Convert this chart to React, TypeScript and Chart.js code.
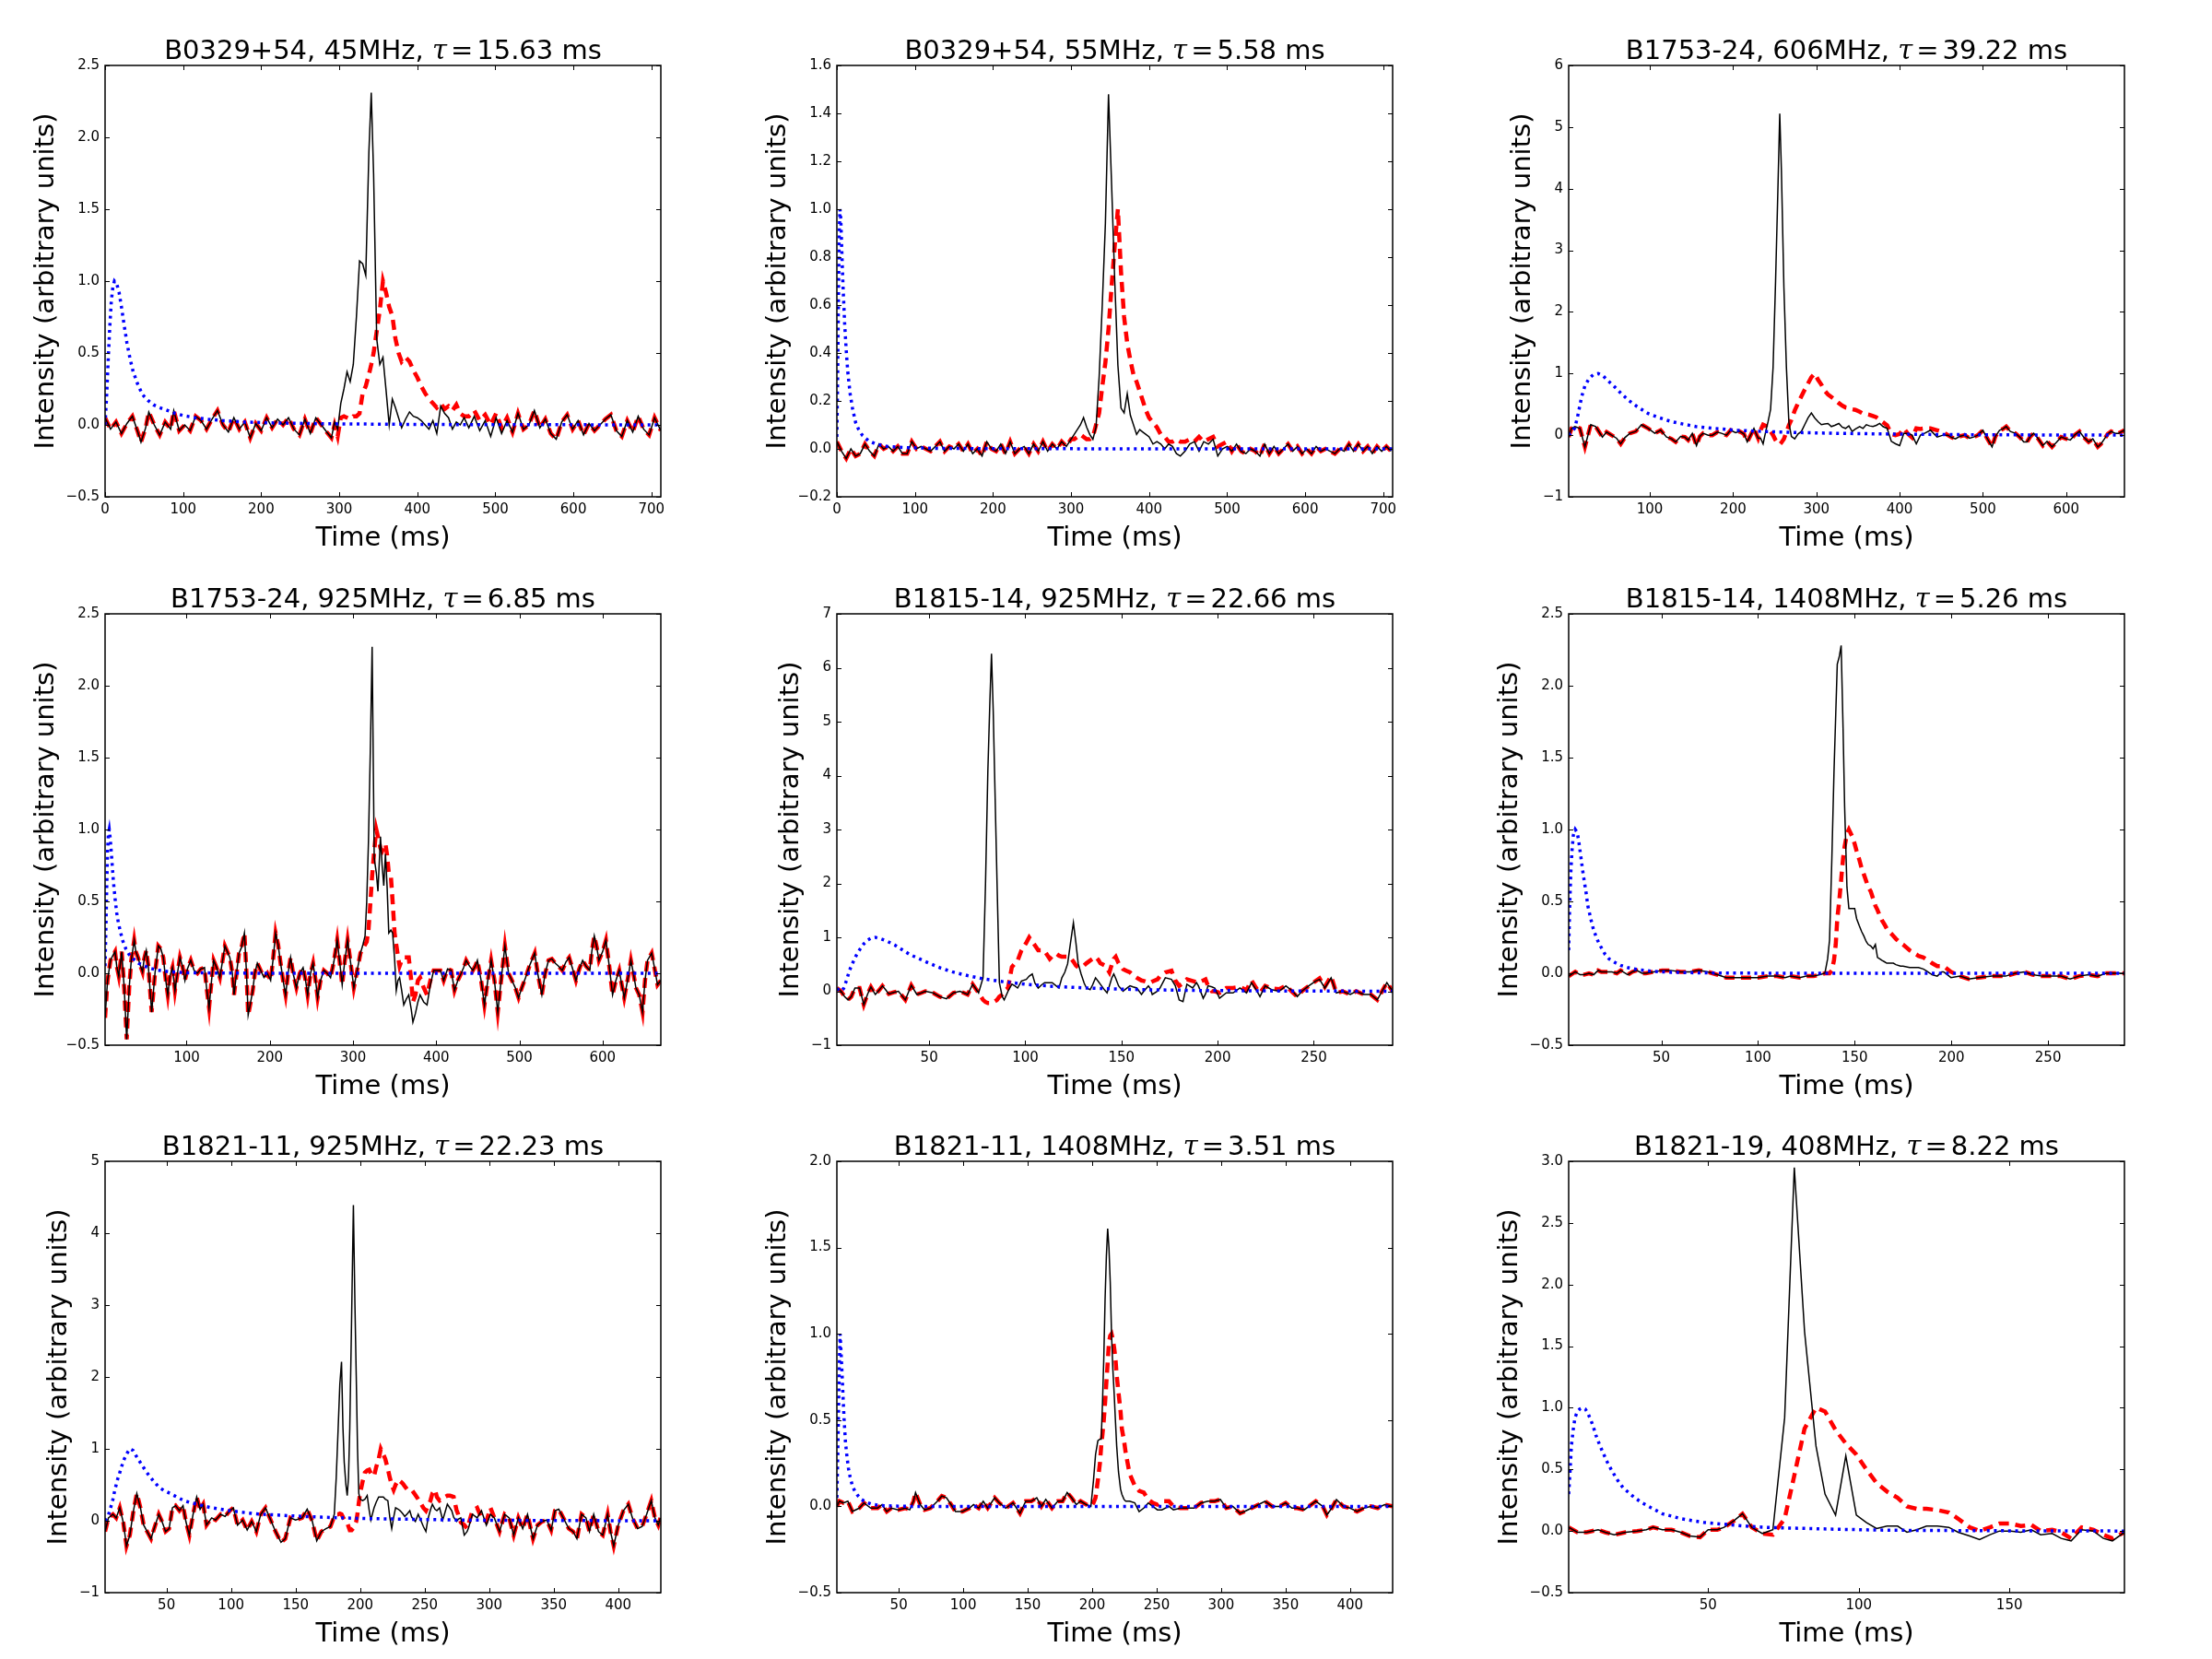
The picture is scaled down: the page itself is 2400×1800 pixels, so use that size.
import React, { useEffect, useRef } from "react";
import { Chart, registerables } from "chart.js";

Chart.register(...registerables);

// ---------- B0329+54, 45 MHz ----------
const p1TimeA = [0, 7, 14, 21, 28, 35, 42, 46, 52, 56, 63, 70, 77, 84, 88, 95, 102, 109, 116, 123, 130, 137, 144, 151, 158, 165, 172, 179, 186, 193, 200, 207, 214, 221, 228, 235, 242, 249, 256, 263, 270, 277, 284, 290];
const p1NoiseA = [0.05, -0.03, 0.02, -0.06, 0.01, 0.06, -0.05, -0.12, -0.02, 0.09, 0.0, -0.07, 0.02, -0.03, 0.1, -0.04, 0.0, -0.04, 0.06, 0.03, -0.03, 0.04, 0.1, 0.0, -0.05, 0.05, -0.03, 0.02, -0.09, 0.01, -0.04, 0.05, -0.02, 0.04, 0.0, 0.05, -0.03, -0.07, 0.04, -0.06, 0.05, 0.0, -0.05, -0.09];
const p1TimeB = [294, 298, 302, 306, 310, 314, 318, 322, 326, 330, 334, 338, 341, 344, 348, 352, 356, 360, 364, 368, 372, 376, 380, 385, 390, 395, 400, 405, 410, 415, 420, 425, 430, 435, 440, 445, 450, 455, 460, 466, 473, 480, 487, 494, 501, 508, 515];
const p1ProfileB = [0.02, -0.03, 0.15, 0.25, 0.37, 0.3, 0.42, 0.75, 1.14, 1.12, 1.04, 1.9, 2.31, 1.75, 0.6, 0.42, 0.47, 0.24, 0.0, 0.18, 0.12, 0.05, -0.02, 0.04, 0.09, 0.06, 0.05, 0.03, 0.0, -0.03, 0.03, -0.06, 0.13, 0.08, 0.05, -0.03, 0.02, 0.0, 0.05, -0.02, 0.06, -0.04, 0.03, -0.08, 0.05, -0.06, 0.03];
const p1ScatteredB = [0.0, -0.08, 0.05, 0.06, 0.05, 0.04, 0.06, 0.06, 0.08, 0.22, 0.27, 0.35, 0.42, 0.5, 0.65, 0.8, 1.0, 0.92, 0.82, 0.76, 0.6, 0.5, 0.44, 0.47, 0.44, 0.38, 0.33, 0.27, 0.22, 0.18, 0.15, 0.12, 0.15, 0.11, 0.13, 0.1, 0.14, 0.08, 0.06, 0.06, 0.1, 0.03, 0.07, 0.0, 0.08, -0.02, 0.05];
const p1TimeC = [522, 529, 536, 543, 550, 557, 564, 571, 578, 585, 592, 599, 606, 613, 620, 627, 634, 641, 648, 655, 662, 669, 676, 683, 690, 697, 704, 712];
const p1NoiseC = [-0.05, 0.08, -0.03, 0.0, 0.1, -0.02, 0.04, -0.06, -0.1, 0.02, 0.07, -0.03, 0.03, -0.07, 0.01, -0.04, 0.0, 0.04, 0.07, -0.04, -0.08, 0.03, -0.05, 0.06, -0.03, -0.07, 0.05, -0.04];
const p1KernelTime = [0, 2, 4, 6, 8, 10, 12, 15, 18, 21, 24, 28, 32, 36, 42, 48, 55, 62, 70, 80, 90, 100, 115, 130, 150, 180, 220, 280, 350, 450, 600, 712];
const p1Kernel = [0, 0.2, 0.45, 0.68, 0.86, 0.96, 1.0, 0.98, 0.92, 0.82, 0.71, 0.57, 0.46, 0.37, 0.28, 0.21, 0.17, 0.14, 0.12, 0.1, 0.08, 0.065, 0.05, 0.04, 0.03, 0.02, 0.013, 0.008, 0.005, 0.002, 0.001, 0];
const p1XTicks = [0, 100, 200, 300, 400, 500, 600, 700];
const p1YTicks = [-0.5, 0, 0.5, 1, 1.5, 2, 2.5];

// ---------- B0329+54, 55 MHz ----------
const p2TimeA = [0, 6, 12, 18, 24, 30, 36, 42, 48, 54, 60, 66, 72, 78, 84, 90, 96, 102, 108, 114, 120, 126, 132, 138, 144, 150, 156, 162, 168, 174, 180, 186, 192, 198, 204, 210, 216, 222, 228, 234, 240, 246, 252, 258, 264, 270, 276, 282, 288, 294, 300];
const p2NoiseA = [0.03, -0.01, -0.04, 0.0, -0.03, -0.02, 0.02, -0.01, -0.03, 0.02, 0.0, 0.01, -0.01, 0.01, -0.02, -0.02, 0.03, 0.0, 0.01, 0.0, -0.01, 0.01, 0.03, -0.01, 0.01, 0.0, 0.02, -0.01, 0.02, -0.02, 0.0, -0.03, 0.03, 0.0, -0.01, 0.02, -0.02, 0.03, -0.02, 0.0, 0.01, -0.02, 0.02, -0.01, 0.03, -0.01, 0.02, 0.0, 0.03, 0.01, 0.04];
const p2TimeB = [304, 308, 312, 316, 320, 324, 328, 332, 336, 340, 344, 348, 352, 356, 360, 364, 368, 372, 376, 380, 384, 388, 392, 396, 400, 405, 410, 415, 420, 425, 430, 435, 440, 446, 452, 458, 464, 470, 476, 482, 488, 494, 500];
const p2ProfileB = [0.06, 0.08, 0.1, 0.13, 0.09, 0.06, 0.04, 0.09, 0.3, 0.6, 0.94, 1.48, 1.1, 0.7, 0.35, 0.17, 0.15, 0.23, 0.14, 0.1, 0.06, 0.08, 0.07, 0.06, 0.05, 0.02, 0.03, 0.02, 0.0, 0.02, 0.01, -0.02, -0.03, -0.01, 0.02, 0.03, -0.01, 0.03, 0.02, 0.04, -0.03, 0.0, 0.01];
const p2ScatteredB = [0.04, 0.05, 0.06, 0.05, 0.04, 0.04, 0.05, 0.1, 0.15, 0.26, 0.36, 0.5, 0.68, 0.85, 1.0, 0.74, 0.55, 0.44, 0.37, 0.31, 0.28, 0.24, 0.2, 0.16, 0.13, 0.11, 0.09, 0.06, 0.05, 0.03, 0.03, 0.04, 0.03, 0.03, 0.04, 0.03, 0.05, 0.03, 0.04, 0.05, 0.01, 0.02, 0.03];
const p2TimeC = [506, 512, 518, 524, 530, 536, 542, 548, 554, 560, 566, 572, 578, 584, 590, 596, 602, 608, 614, 620, 626, 632, 638, 644, 650, 656, 662, 668, 674, 680, 686, 692, 698, 704, 710];
const p2NoiseC = [-0.01, 0.02, -0.01, -0.02, 0.0, -0.01, -0.03, 0.02, -0.02, 0.01, -0.02, 0.0, 0.02, -0.01, 0.01, -0.02, 0.0, -0.02, 0.01, -0.01, 0.0, -0.01, -0.02, 0.0, -0.01, 0.02, -0.01, 0.02, -0.01, 0.01, -0.02, 0.01, -0.01, 0.01, -0.01];
const p2KernelTime = [0, 1, 2, 3, 4, 5, 6, 7, 8, 10, 12, 14, 17, 20, 24, 28, 33, 40, 50, 65, 90, 130, 200, 400, 712];
const p2Kernel = [0.05, 0.3, 0.62, 0.9, 1.0, 0.96, 0.86, 0.76, 0.67, 0.52, 0.41, 0.32, 0.23, 0.17, 0.11, 0.08, 0.055, 0.035, 0.02, 0.01, 0.005, 0.002, 0.001, 0, 0];
const p2XTicks = [0, 100, 200, 300, 400, 500, 600, 700];
const p2YTicks = [-0.2, 0, 0.2, 0.4, 0.6, 0.8, 1.0, 1.2, 1.4, 1.6];

// ---------- B1753-24, 606 MHz ----------
const p3TimeA = [2.5, 6, 10, 16, 22, 29, 35, 43, 48, 54, 60, 65, 70, 76, 83, 90, 98, 106, 113, 120, 126, 131, 137, 142, 146, 151, 156, 160, 164, 170, 175, 181, 186, 192, 197, 203, 208, 213, 217, 221, 225, 230];
const p3NoiseA = [-0.03, 0.11, 0.14, 0.11, -0.19, 0.17, 0.14, -0.03, 0.05, 0.0, -0.05, -0.14, -0.04, 0.03, 0.06, 0.17, 0.11, 0.03, 0.08, -0.03, -0.06, -0.11, -0.02, -0.03, -0.08, 0.03, -0.17, -0.02, 0.03, 0.0, 0.0, 0.05, 0.03, 0.0, 0.08, 0.04, 0.06, 0.02, -0.11, 0.0, 0.11, -0.05];
const p3TimeB = [233, 236, 239, 242, 245, 248, 251, 254, 256, 258, 261, 264, 267, 270, 274, 278, 282, 286, 290, 294, 298, 302, 306, 310, 314, 318, 322, 327, 331, 335, 339, 343, 347, 352, 356, 360, 364, 368, 372, 376, 380, 385, 390, 395, 400, 405, 410, 415, 420, 425, 430, 437, 445, 452];
const p3ProfileB = [-0.05, -0.14, 0.05, 0.22, 0.42, 1.1, 2.5, 4.1, 5.22, 4.3, 2.4, 1.1, 0.2, -0.02, -0.06, 0.02, 0.06, 0.17, 0.28, 0.36, 0.28, 0.22, 0.17, 0.18, 0.19, 0.14, 0.16, 0.19, 0.13, 0.11, 0.15, 0.06, 0.1, 0.14, 0.11, 0.17, 0.15, 0.14, 0.16, 0.19, 0.14, 0.11, -0.1, -0.14, -0.17, 0.03, 0.03, 0.0, -0.14, 0.0, 0.03, 0.08, -0.03, 0.0];
const p3ScatteredB = [0.08, 0.17, 0.15, 0.09, 0.06, 0.0, -0.08, -0.14, -0.15, -0.12, -0.06, 0.05, 0.16, 0.25, 0.4, 0.52, 0.63, 0.74, 0.84, 0.94, 1.0, 0.9, 0.82, 0.72, 0.66, 0.62, 0.58, 0.52, 0.48, 0.45, 0.44, 0.42, 0.41, 0.38, 0.35, 0.34, 0.33, 0.31, 0.29, 0.25, 0.21, 0.16, 0.02, 0.0, 0.02, 0.11, 0.02, -0.04, 0.11, 0.1, 0.11, 0.11, 0.08, 0.05];
const p3TimeC = [458, 463, 467, 472, 478, 484, 489, 494, 500, 505, 511, 515, 520, 524, 528, 533, 539, 545, 549, 553, 557, 561, 566, 572, 577, 583, 588, 594, 600, 605, 610, 616, 621, 627, 632, 638, 642, 646, 650, 654, 659, 663, 667, 670];
const p3NoiseC = [0.0, -0.04, -0.06, -0.02, 0.0, -0.05, -0.03, 0.0, 0.08, -0.05, -0.19, -0.02, 0.08, 0.1, 0.14, 0.06, 0.03, -0.04, -0.11, -0.11, -0.02, 0.03, -0.05, -0.17, -0.1, -0.19, -0.12, -0.03, -0.06, -0.08, 0.0, 0.06, -0.03, -0.11, -0.06, -0.19, -0.14, -0.06, 0.02, 0.06, 0.03, 0.03, 0.06, 0.08];
const p3KernelTime = [2.5, 6, 10, 14, 18, 22, 27, 32, 38, 44, 50, 58, 66, 75, 85, 98, 112, 126, 140, 155, 170, 186, 205, 236, 270, 320, 380, 430, 500, 600, 670];
const p3Kernel = [0.0, 0.05, 0.12, 0.35, 0.62, 0.8, 0.92, 0.98, 1.0, 0.96, 0.88, 0.78, 0.67, 0.56, 0.46, 0.35, 0.28, 0.22, 0.18, 0.14, 0.12, 0.1, 0.08, 0.06, 0.045, 0.03, 0.02, 0.012, 0.006, 0.002, 0.0];
const p3XTicks = [100, 200, 300, 400, 500, 600];
const p3YTicks = [-1, 0, 1, 2, 3, 4, 5, 6];

// ---------- B1753-24, 925 MHz ----------
const p4TimeA = [2, 5, 8.5, 11, 14, 16, 18.5, 20, 22, 25, 28, 31, 33.5, 37, 39, 41.6, 44, 47, 49, 51.5, 54, 58, 62, 66, 69, 72, 75, 77.4, 80, 83, 86, 89, 92, 95, 98, 101, 105, 109, 113, 117, 121.5, 124, 127, 130, 132.5, 136, 140, 143, 146, 149, 152, 155, 157, 160, 163, 166, 169.5, 172, 174, 177, 179.5, 182, 185, 189, 193, 197, 201, 204, 207, 210, 212.5, 216, 219, 222, 225, 228, 232, 236, 240, 243, 245.5, 249, 252, 255, 257.5, 261, 265, 269, 273, 277, 281, 284, 287, 290, 293.5, 297, 301, 305];
const p4NoiseA = [-0.31, -0.05, 0.09, 0.12, 0.15, 0.05, -0.02, 0.05, 0.15, -0.1, -0.46, -0.1, 0.09, 0.23, 0.15, 0.11, 0.06, 0.01, 0.1, 0.16, 0.05, -0.27, 0.0, 0.19, 0.17, 0.11, -0.05, -0.15, -0.02, 0.04, -0.12, 0.0, 0.11, 0.05, -0.05, 0.03, 0.09, 0.02, 0.0, 0.03, 0.04, -0.1, -0.24, -0.05, 0.09, 0.04, -0.03, 0.08, 0.19, 0.15, 0.11, 0.0, -0.15, 0.0, 0.14, 0.18, 0.28, 0.0, -0.29, -0.2, -0.12, 0.0, 0.07, 0.02, -0.03, 0.0, -0.05, 0.1, 0.28, 0.2, 0.09, -0.05, -0.15, 0.0, 0.11, 0.0, -0.1, 0.0, 0.04, -0.05, -0.15, 0.0, 0.07, -0.05, -0.17, -0.05, 0.02, 0.0, -0.03, 0.08, 0.23, 0.08, -0.08, 0.08, 0.23, 0.08, -0.1, 0.02];
const p4TimeB = [309, 312, 314.5, 316.5, 318.6, 321, 323, 325.5, 328, 330, 333, 335, 337, 339, 341, 343, 345.5, 347.6, 350, 352, 354, 356, 358.5, 361, 364, 367, 370, 372, 375, 378, 380.6, 385, 389, 393, 397, 401];
const p4ProfileB = [0.14, 0.2, 0.26, 0.5, 0.92, 1.6, 2.27, 0.8, 0.7, 0.57, 0.95, 0.75, 0.61, 0.83, 0.6, 0.28, 0.3, 0.28, 0.1, -0.12, -0.05, -0.03, -0.12, -0.22, -0.18, -0.15, -0.25, -0.34, -0.28, -0.2, -0.15, -0.2, -0.22, -0.08, 0.02, 0.02];
const p4ScatteredB = [0.14, 0.17, 0.2, 0.22, 0.3, 0.5, 0.68, 0.85, 1.0, 0.95, 0.87, 0.85, 0.88, 0.9, 0.82, 0.7, 0.68, 0.5, 0.28, 0.2, 0.12, 0.05, 0.09, 0.11, 0.11, 0.11, -0.05, -0.2, -0.15, -0.05, -0.03, -0.1, -0.15, -0.05, 0.02, 0.02];
const p4TimeC = [405, 409, 413.7, 418, 422, 426, 430, 433, 436, 440, 444, 447, 449.5, 454, 458, 462, 466, 470, 474, 478, 482.6, 487, 491, 495, 499, 503, 507.4, 512, 518.4, 522, 527, 531, 535, 539, 543, 547, 551.5, 556, 559.8, 564, 568, 572, 576, 580, 584.6, 587, 590, 593, 595.6, 600, 604, 608, 612, 616, 620, 623, 626, 630, 634, 637, 640, 644, 648, 651, 654, 657, 659, 662, 666, 670];
const p4NoiseC = [0.02, -0.05, 0.03, 0.02, -0.12, -0.05, 0.0, 0.04, 0.09, 0.05, 0.02, 0.05, 0.09, -0.05, -0.22, -0.05, 0.09, -0.05, -0.27, -0.05, 0.19, 0.0, -0.05, -0.1, -0.17, -0.1, -0.03, 0.05, 0.14, 0.0, -0.15, 0.0, 0.09, 0.1, 0.07, 0.05, 0.02, 0.08, 0.11, 0.03, -0.05, 0.03, 0.09, 0.05, 0.02, 0.15, 0.26, 0.18, 0.09, 0.15, 0.23, 0.05, -0.15, -0.05, 0.02, -0.08, -0.17, -0.05, 0.09, 0.0, -0.1, -0.15, -0.27, -0.05, 0.09, 0.12, 0.14, 0.05, -0.08, -0.05];
const p4KernelTime = [2, 3, 4, 5, 6, 7, 8, 9, 10, 11, 12, 14, 16, 18, 20, 23, 27, 31, 36, 42, 48, 56, 65, 80, 100, 150, 250, 670];
const p4Kernel = [0.05, 0.3, 0.6, 0.85, 0.97, 1.0, 0.95, 0.88, 0.8, 0.72, 0.64, 0.52, 0.42, 0.35, 0.3, 0.23, 0.17, 0.13, 0.1, 0.07, 0.055, 0.035, 0.022, 0.01, 0.004, 0.001, 0, 0];
const p4XTicks = [100, 200, 300, 400, 500, 600];
const p4YTicks = [-0.5, 0, 0.5, 1, 1.5, 2, 2.5];

// ---------- B1815-14, 925 MHz ----------
const p5TimeA = [2, 4.2, 6, 7.8, 9.5, 11.4, 13.8, 16, 18, 19.7, 22, 24, 25.7, 27.5, 29, 31.5, 34, 37.6, 40.7, 43.6, 46, 48, 52, 55.5, 59, 62.6, 66, 70, 72.6];
const p5NoiseA = [0.06, 0.0, -0.1, -0.16, -0.1, 0.06, 0.06, -0.25, -0.05, 0.08, -0.06, 0.02, 0.1, 0.02, -0.05, -0.02, 0.0, -0.16, 0.11, -0.06, -0.03, 0.0, -0.03, -0.1, -0.14, -0.03, 0.0, -0.06, 0.13];
const p5TimeB = [75.7, 78, 79.3, 80.5, 81.5, 82.4, 83.3, 84, 85.3, 86.5, 88, 89, 91, 93, 94.5, 96, 98, 100.5, 102, 103.6, 105, 106.7, 108.5, 110, 112.7, 114, 116, 117.5, 119, 120.5, 122, 123.5, 125, 126.3, 127.5, 129, 130.6, 131.8, 133.7, 135, 136.5, 138, 139, 141.3, 142.5, 143.7, 145, 146, 147, 148.5, 150.8, 152.5, 154.4, 156, 158, 160.4, 161.6, 164, 165, 166, 168.7, 170, 172.8, 176, 178, 180, 182, 184, 187, 189, 190, 192.5, 193.7, 195, 197, 198.5, 201, 204.5, 208, 211.6, 215, 217.6, 220, 222, 224.7, 228, 232, 235.5, 239, 241.4, 243.8, 247.4, 251, 253, 255.7, 259, 261.7];
const p5ProfileB = [-0.03, 0.25, 2.0, 4.07, 5.3, 6.26, 5.2, 4.07, 2.0, 0.16, -0.1, -0.16, 0.0, 0.13, 0.1, 0.06, 0.19, 0.22, 0.28, 0.32, 0.15, 0.06, 0.12, 0.16, 0.16, 0.16, 0.1, 0.06, 0.25, 0.35, 0.51, 0.9, 1.27, 0.9, 0.51, 0.32, 0.15, 0.06, 0.03, 0.12, 0.25, 0.18, 0.13, 0.02, -0.03, 0.1, 0.25, 0.32, 0.24, 0.1, 0.0, 0.05, 0.1, 0.08, 0.06, -0.06, 0.0, 0.1, 0.05, -0.06, 0.0, 0.06, 0.25, 0.22, 0.1, -0.16, -0.19, 0.13, 0.06, 0.16, 0.1, -0.13, -0.05, 0.1, 0.08, 0.06, -0.13, -0.03, -0.03, 0.06, -0.03, 0.16, 0.03, -0.1, 0.1, 0.03, 0.0, 0.1, 0.0, -0.1, 0.0, 0.1, 0.19, 0.22, 0.06, 0.25, -0.03];
const p5ScatteredB = [-0.03, -0.16, -0.2, -0.22, -0.22, -0.22, -0.2, -0.19, -0.16, -0.1, -0.06, 0.0, 0.06, 0.45, 0.51, 0.57, 0.76, 0.9, 1.0, 0.92, 0.85, 0.76, 0.76, 0.75, 0.6, 0.65, 0.7, 0.66, 0.64, 0.64, 0.64, 0.62, 0.55, 0.48, 0.44, 0.46, 0.48, 0.52, 0.57, 0.6, 0.64, 0.58, 0.52, 0.48, 0.42, 0.35, 0.5, 0.6, 0.64, 0.52, 0.41, 0.38, 0.35, 0.3, 0.25, 0.2, 0.19, 0.16, 0.16, 0.18, 0.22, 0.28, 0.35, 0.38, 0.2, 0.1, 0.15, 0.22, 0.19, 0.17, 0.16, 0.2, 0.22, 0.1, 0.0, 0.0, -0.03, 0.06, 0.06, 0.08, 0.02, 0.2, 0.06, -0.03, 0.1, 0.05, 0.04, 0.1, -0.02, -0.1, 0.0, 0.1, 0.19, 0.24, 0.08, 0.28, -0.03];
const p5TimeC = [265, 269, 272, 276, 279.6, 283, 285.5, 288, 291];
const p5NoiseC = [0.0, -0.06, 0.0, -0.06, -0.06, -0.16, 0.0, 0.16, 0.0];
const p5KernelTime = [2, 4, 5.5, 7, 8.5, 10, 12, 14, 16, 18, 20, 22, 25, 28, 32, 36, 40, 45, 50, 56, 62, 70, 78, 88, 100, 115, 135, 160, 190, 230, 291];
const p5Kernel = [0.05, 0.0, 0.05, 0.2, 0.38, 0.51, 0.66, 0.78, 0.88, 0.95, 0.99, 1.0, 0.97, 0.93, 0.86, 0.77, 0.68, 0.6, 0.52, 0.43, 0.36, 0.29, 0.23, 0.18, 0.13, 0.09, 0.055, 0.03, 0.015, 0.006, 0.0];
const p5XTicks = [50, 100, 150, 200, 250];
const p5YTicks = [-1, 0, 1, 2, 3, 4, 5, 6, 7];

// ---------- B1815-14, 1408 MHz ----------
const p6TimeA = [2.1, 5.5, 8, 10, 12.6, 15, 17.3, 19, 20.9, 24.4, 27, 29, 32.7, 35, 37.4, 40, 42, 46, 50.5, 55, 60, 64.7, 69.4, 74, 79, 83.6, 90.8, 95, 100, 105, 109.7, 114, 116.8, 121.6, 125, 128.7, 132];
const p6NoiseA = [-0.02, 0.01, -0.01, -0.01, 0.0, -0.01, 0.02, 0.01, 0.01, 0.01, 0.0, 0.02, -0.01, 0.01, 0.02, 0.0, 0.0, 0.01, 0.02, 0.02, 0.01, 0.01, 0.02, 0.01, -0.01, -0.03, -0.03, -0.03, -0.03, -0.02, -0.02, -0.03, -0.02, -0.03, -0.02, -0.02, -0.01];
const p6TimeB = [134.6, 136, 137, 138.2, 139.3, 140.2, 141, 142, 143, 144, 144.8, 146, 147, 148.8, 150, 151, 152.4, 153.6, 154.7, 156, 157, 158.3, 159.5, 160.7, 161.8, 163, 164, 165.4, 166.6, 167.8, 170, 171.3, 173.7, 175, 178.4, 182, 183, 185.5, 186.7, 189, 190, 192.7, 195, 196, 199.8, 204.5];
const p6ProfileB = [0.0, 0.1, 0.23, 0.8, 1.4, 1.8, 2.15, 2.2, 2.28, 1.7, 1.16, 0.6, 0.45, 0.45, 0.45, 0.38, 0.33, 0.29, 0.26, 0.22, 0.2, 0.19, 0.17, 0.2, 0.11, 0.1, 0.09, 0.08, 0.07, 0.07, 0.07, 0.06, 0.05, 0.05, 0.04, 0.04, 0.04, 0.03, 0.02, 0.0, -0.01, -0.02, 0.01, 0.01, -0.03, -0.02];
const p6ScatteredB = [0.0, 0.0, 0.0, 0.02, 0.09, 0.2, 0.38, 0.5, 0.65, 0.8, 0.88, 0.97, 1.0, 0.95, 0.9, 0.85, 0.79, 0.73, 0.69, 0.64, 0.6, 0.57, 0.52, 0.47, 0.44, 0.4, 0.37, 0.34, 0.31, 0.29, 0.26, 0.24, 0.21, 0.2, 0.16, 0.13, 0.12, 0.11, 0.1, 0.08, 0.07, 0.05, 0.05, 0.05, 0.01, -0.02];
const p6TimeC = [209, 214, 221, 228, 233, 237.7, 242, 247, 252, 256.6, 261.4, 266, 271, 275.6, 280, 285, 289.5];
const p6NoiseC = [-0.04, -0.03, -0.02, -0.02, 0.0, 0.01, -0.01, -0.02, -0.02, -0.02, -0.04, -0.02, -0.01, -0.02, 0.0, 0.0, 0.0];
const p6KernelTime = [2.1, 2.6, 3.2, 3.8, 4.5, 5.5, 6.5, 7.3, 8.5, 9.7, 11, 12, 13.5, 15, 17, 18.5, 21, 23, 26, 29, 33, 38.6, 45, 55, 70, 100, 150, 289.5];
const p6Kernel = [0.16, 0.45, 0.7, 0.85, 0.96, 1.0, 0.98, 0.92, 0.8, 0.68, 0.57, 0.47, 0.38, 0.3, 0.23, 0.19, 0.13, 0.1, 0.075, 0.055, 0.038, 0.024, 0.014, 0.007, 0.003, 0.0005, 0, 0];
const p6XTicks = [50, 100, 150, 200, 250];
const p6YTicks = [-0.5, 0, 0.5, 1, 1.5, 2, 2.5];

// ---------- B1821-11, 925 MHz ----------
const p7TimeA = [2.4, 5, 8.5, 11, 13.8, 16.6, 19, 21.6, 24.4, 27, 29.8, 32.3, 35, 38, 40.4, 44, 46.5, 49.3, 52, 54.6, 57, 60, 62.8, 65, 67.7, 70.6, 73.4, 76, 78.4, 81, 85, 88, 92, 95.4, 99, 101.8, 105, 109, 112.5, 116, 119.6, 123, 126.7, 130, 134.5, 138.7, 142, 146, 150, 155, 159, 163, 166.4, 170, 173.5, 177];
const p7NoiseA = [-0.15, 0.04, 0.09, 0.04, 0.18, -0.03, -0.35, -0.2, 0.14, 0.38, 0.18, -0.06, -0.15, -0.25, -0.11, 0.09, -0.01, -0.15, -0.11, 0.18, 0.21, 0.14, 0.21, -0.01, -0.2, 0.09, 0.33, 0.16, 0.23, -0.06, 0.04, 0.01, 0.09, 0.06, 0.14, 0.18, -0.06, 0.01, -0.13, -0.01, -0.15, 0.09, 0.18, 0.04, -0.15, -0.3, -0.25, 0.04, 0.01, 0.04, 0.16, -0.01, -0.28, -0.15, -0.11, -0.08];
const p7TimeB = [180, 181.5, 183, 184.3, 185.6, 186.7, 187.7, 189, 190, 191, 192, 193.4, 194.8, 196, 197, 198, 199, 200, 202, 203.7, 205.5, 207, 208.3, 210.8, 212.5, 214.4, 216, 218, 219.5, 221.5, 223, 224.5, 226, 227.5, 229.6, 231, 233, 234.6, 236.7, 238.5, 240, 242.8, 245, 247.4, 249, 251, 252.5, 254.5, 256, 258, 259.5, 261.6, 264, 265.5, 267.6, 269.5, 271, 272.5, 274.7, 276, 278, 280.7, 282.9, 284, 287, 290.7, 294, 297.8, 301, 304];
const p7ProfileB = [0.09, 0.6, 1.29, 1.9, 2.21, 1.3, 0.81, 0.5, 0.35, 0.6, 1.29, 2.8, 4.39, 3.0, 2.02, 1.0, 0.38, 0.3, 0.28, 0.3, 0.35, 0.15, 0.01, 0.18, 0.26, 0.33, 0.33, 0.33, 0.3, 0.28, 0.05, -0.11, 0.05, 0.18, 0.16, 0.14, 0.1, 0.06, 0.1, 0.14, 0.05, -0.01, 0.09, -0.01, -0.08, -0.15, 0.02, 0.15, 0.23, 0.16, 0.14, 0.18, 0.01, 0.1, 0.23, 0.18, 0.14, 0.05, -0.01, 0.02, 0.04, -0.2, -0.15, -0.1, 0.09, 0.04, 0.14, -0.06, 0.09, 0.04];
const p7ScatteredB = [0.06, 0.09, 0.09, 0.1, 0.09, 0.05, 0.02, -0.01, -0.03, -0.08, -0.13, -0.13, -0.1, -0.05, -0.01, 0.1, 0.25, 0.38, 0.55, 0.67, 0.7, 0.71, 0.66, 0.62, 0.75, 0.86, 1.0, 0.92, 0.86, 0.72, 0.6, 0.5, 0.43, 0.5, 0.57, 0.55, 0.52, 0.48, 0.43, 0.43, 0.43, 0.36, 0.3, 0.23, 0.18, 0.14, 0.2, 0.28, 0.38, 0.43, 0.33, 0.28, 0.3, 0.33, 0.35, 0.35, 0.34, 0.33, 0.15, 0.09, -0.02, -0.06, -0.11, -0.05, 0.14, 0.18, 0.04, -0.01, 0.18, 0.04];
const p7TimeC = [308, 312, 315.5, 319, 322.6, 326, 329.7, 334, 337.5, 341, 344.6, 348, 351, 353.9, 357.4, 361.7, 365, 368, 371.6, 375, 377.7, 381, 384.7, 388, 391.8, 394, 396.5, 400, 404, 407.8, 411, 415, 418.5, 422, 425.6, 428.4, 431, 432.7];
const p7NoiseC = [-0.15, 0.09, 0.04, -0.2, 0.04, -0.11, 0.09, -0.25, -0.06, -0.01, 0.01, -0.13, 0.14, 0.16, 0.04, -0.11, -0.15, -0.25, 0.09, 0.04, -0.15, 0.09, -0.15, -0.2, 0.09, -0.15, -0.35, -0.06, 0.14, 0.23, 0.04, -0.11, -0.08, 0.09, 0.28, 0.04, -0.06, 0.04];
const p7KernelTime = [2.4, 5, 6.7, 8.5, 10, 12, 13.8, 15.5, 17.3, 19.5, 21.6, 24, 26.2, 29, 31.5, 34, 36.9, 40, 44, 48, 52.8, 58, 63.5, 69, 74, 80, 85, 92, 99, 108, 116.7, 125, 134.5, 150, 170, 190, 205.5, 240, 276.5, 310, 347.5, 400, 432.7];
const p7Kernel = [0.0, 0.08, 0.18, 0.3, 0.43, 0.57, 0.67, 0.77, 0.86, 0.94, 1.0, 0.98, 0.91, 0.83, 0.76, 0.69, 0.62, 0.55, 0.47, 0.42, 0.38, 0.33, 0.28, 0.25, 0.23, 0.2, 0.18, 0.16, 0.14, 0.12, 0.1, 0.09, 0.08, 0.065, 0.05, 0.038, 0.03, 0.02, 0.01, 0.006, 0.003, 0.001, 0.0];
const p7XTicks = [50, 100, 150, 200, 250, 300, 350, 400];
const p7YTicks = [-1, 0, 1, 2, 3, 4, 5];

// ---------- B1821-11, 1408 MHz ----------
const p8TimeA = [2, 4, 7, 10.5, 14, 19.4, 23, 28.3, 33.6, 37, 40.7, 44.3, 49.6, 55, 58.5, 61.4, 63, 66.7, 70, 74.5, 80, 83.4, 87, 90.6, 94, 99.4, 104.8, 108, 112, 115.5, 119, 124.4, 128, 133, 138.6, 144, 148.5, 152.8, 157, 160.6, 164, 168.8, 173.4, 177, 180.6, 184, 187.7, 191, 195.5];
const p8NoiseA = [0.0, 0.03, 0.02, 0.03, -0.03, -0.01, 0.02, -0.01, -0.01, 0.01, -0.03, -0.01, -0.02, -0.01, -0.02, 0.03, 0.08, 0.01, -0.02, -0.01, 0.03, 0.06, 0.05, 0.01, -0.03, -0.03, -0.01, 0.01, -0.01, 0.03, -0.01, 0.05, 0.02, -0.01, 0.02, -0.04, 0.03, 0.03, 0.05, 0.0, 0.04, -0.01, 0.03, 0.03, 0.08, 0.05, 0.01, 0.03, 0.01];
const p8TimeB = [199, 201, 202.6, 204.4, 206, 207, 208, 209, 210, 211, 212, 213, 214, 215, 216, 217, 218, 219, 220.4, 222, 223, 224.7, 226, 229, 233, 236.4, 240, 243.5, 247, 250.6, 254, 259.5, 263];
const p8ProfileB = [0.0, 0.15, 0.3, 0.38, 0.39, 0.39, 0.6, 0.86, 1.2, 1.45, 1.61, 1.5, 1.3, 1.0, 0.8, 0.66, 0.5, 0.35, 0.2, 0.1, 0.07, 0.04, 0.03, 0.03, 0.02, -0.03, -0.01, 0.02, 0.0, -0.02, -0.02, 0.0, -0.02];
const p8ScatteredB = [0.0, 0.02, 0.05, 0.15, 0.25, 0.35, 0.42, 0.5, 0.6, 0.72, 0.83, 0.95, 0.99, 1.0, 0.97, 0.92, 0.86, 0.76, 0.66, 0.55, 0.45, 0.38, 0.31, 0.19, 0.12, 0.09, 0.08, 0.04, 0.02, 0.01, 0.03, 0.03, 0.0];
const p8TimeC = [268.4, 273.8, 279, 284.4, 289.8, 295, 299.4, 304, 309, 314.7, 318, 323.6, 329, 334, 339.6, 345, 350, 354.9, 359, 364.5, 368, 373.4, 378.8, 382, 385.8, 389.4, 394.7, 400, 405.4, 410.7, 416, 421.4, 426.7, 433];
const p8NoiseC = [-0.01, -0.01, -0.01, 0.02, 0.03, 0.03, 0.04, -0.01, 0.0, -0.04, -0.03, -0.01, 0.01, 0.03, 0.0, 0.0, 0.02, -0.01, -0.01, -0.02, 0.0, 0.03, 0.0, -0.05, -0.01, 0.04, 0.0, -0.01, -0.03, -0.01, 0.0, -0.01, 0.01, 0.0];
const p8KernelTime = [2, 2.7, 3.4, 4, 4.5, 5.2, 6.2, 7, 7.7, 8.7, 9.8, 11, 12.3, 14, 15.8, 18, 21, 24.5, 28.3, 33, 39, 50, 60, 100, 433];
const p8Kernel = [0.05, 0.3, 0.6, 0.85, 1.0, 0.9, 0.74, 0.6, 0.49, 0.37, 0.29, 0.22, 0.17, 0.12, 0.09, 0.065, 0.04, 0.025, 0.014, 0.008, 0.004, 0.001, 0, 0, 0];
const p8XTicks = [50, 100, 150, 200, 250, 300, 350, 400];
const p8YTicks = [-0.5, 0, 0.5, 1, 1.5, 2];

// ---------- B1821-19, 408 MHz ----------
const p9TimeA = [3.7, 6.6, 9.7, 13.5, 15.8, 18.8, 22.6, 26.4, 29.5, 31.7, 34.8, 37.8, 40.9, 43.9, 47.3, 50, 53, 55.3, 58.4, 61.4, 64.5, 68];
const p9NoiseA = [0.03, -0.01, -0.01, 0.01, -0.01, -0.03, -0.01, 0.0, 0.01, 0.03, 0.01, 0.01, -0.01, -0.04, -0.05, 0.01, 0.01, 0.03, 0.08, 0.14, 0.03, -0.02];
const p9TimeB = [71.5, 75.4, 78.6, 82, 85.8, 88.8, 92.3, 95.7, 99.2, 102.5, 105.9, 109.4, 112.9, 116, 119.3, 122.5, 126.1, 129.9, 133, 136.8, 140.1, 143.6, 146.7, 150.5, 153.8, 157.3, 160.4, 164.2, 167.2, 170.5, 174, 177.9, 181.2, 184.2, 188.2];
const p9ProfileB = [0.01, 0.92, 2.95, 1.62, 0.69, 0.3, 0.13, 0.61, 0.13, 0.07, 0.02, 0.04, 0.04, -0.01, 0.01, 0.04, 0.04, 0.03, -0.01, -0.04, -0.07, -0.03, 0.0, 0.0, -0.01, 0.01, -0.03, -0.02, -0.06, -0.08, 0.01, 0.0, -0.06, -0.08, -0.01];
const p9ScatteredB = [-0.03, 0.1, 0.45, 0.83, 1.0, 0.97, 0.82, 0.71, 0.62, 0.5, 0.39, 0.32, 0.27, 0.2, 0.18, 0.18, 0.17, 0.15, 0.1, 0.03, 0.0, 0.03, 0.06, 0.06, 0.04, 0.05, 0.0, 0.01, -0.01, -0.06, 0.03, 0.01, -0.03, -0.06, -0.01];
const p9TimeC: number[] = [];
const p9NoiseC: number[] = [];
const p9KernelTime = [3.7, 4.2, 4.6, 5.2, 5.8, 6.6, 7.4, 8.3, 9.2, 10, 10.7, 11.7, 12.7, 13.8, 15, 16.5, 18, 20, 21.8, 23.7, 25.6, 28, 30.2, 32.5, 34.8, 38, 40.9, 44.5, 48.5, 53, 57.6, 62.5, 68.3, 75, 83.5, 95, 106.3, 120, 136.8, 160, 188.2];
const p9Kernel = [0.3, 0.5, 0.69, 0.82, 0.92, 0.97, 0.99, 1.0, 0.99, 0.96, 0.92, 0.86, 0.78, 0.71, 0.64, 0.56, 0.49, 0.41, 0.35, 0.31, 0.27, 0.23, 0.2, 0.17, 0.14, 0.12, 0.1, 0.085, 0.07, 0.06, 0.05, 0.04, 0.03, 0.025, 0.02, 0.013, 0.008, 0.005, 0.003, 0.001, 0.0];
const p9XTicks = [50, 100, 150];
const p9YTicks = [-0.5, 0, 0.5, 1, 1.5, 2, 2.5, 3];

// ---------- layout & style ----------
const FONT = '"DejaVu Sans", "Liberation Sans", sans-serif';
const LABEL_PX = 29;
const TICK_PX = 15;
const COL_LEFT = [114, 908, 1702];
const ROW_TOP = [71, 666, 1260];
const PLOT_W = 603;
const PLOT_H = 468;
const AXIS_W = 100;
const AXIS_H = 66;
const PAD_T = 60;
const PAD_R = 30;
const CW = AXIS_W + PLOT_W + PAD_R;
const CH = PAD_T + PLOT_H + AXIS_H;
const TICK_LEN = 5;
const EQ_GAP = 4;

type Spec = {
  source: string;
  tau: string;
  xMin: number;
  xMax: number;
  xTicks: number[];
  yTicks: number[];
  yDecimals: number;
  tA: number[]; nA: number[];
  tB: number[]; profB: number[]; scatB: number[];
  tC: number[]; nC: number[];
  kT: number[]; k: number[];
};

const PANELS: Spec[] = [
  { source: "B0329+54, 45MHz, ", tau: "15.63", xMin: 0, xMax: 712, xTicks: p1XTicks, yTicks: p1YTicks, yDecimals: 1,
    tA: p1TimeA, nA: p1NoiseA, tB: p1TimeB, profB: p1ProfileB, scatB: p1ScatteredB, tC: p1TimeC, nC: p1NoiseC, kT: p1KernelTime, k: p1Kernel },
  { source: "B0329+54, 55MHz, ", tau: "5.58", xMin: 0, xMax: 712, xTicks: p2XTicks, yTicks: p2YTicks, yDecimals: 1,
    tA: p2TimeA, nA: p2NoiseA, tB: p2TimeB, profB: p2ProfileB, scatB: p2ScatteredB, tC: p2TimeC, nC: p2NoiseC, kT: p2KernelTime, k: p2Kernel },
  { source: "B1753-24, 606MHz, ", tau: "39.22", xMin: 2.5, xMax: 670, xTicks: p3XTicks, yTicks: p3YTicks, yDecimals: 0,
    tA: p3TimeA, nA: p3NoiseA, tB: p3TimeB, profB: p3ProfileB, scatB: p3ScatteredB, tC: p3TimeC, nC: p3NoiseC, kT: p3KernelTime, k: p3Kernel },
  { source: "B1753-24, 925MHz, ", tau: "6.85", xMin: 2, xMax: 670, xTicks: p4XTicks, yTicks: p4YTicks, yDecimals: 1,
    tA: p4TimeA, nA: p4NoiseA, tB: p4TimeB, profB: p4ProfileB, scatB: p4ScatteredB, tC: p4TimeC, nC: p4NoiseC, kT: p4KernelTime, k: p4Kernel },
  { source: "B1815-14, 925MHz, ", tau: "22.66", xMin: 2, xMax: 291, xTicks: p5XTicks, yTicks: p5YTicks, yDecimals: 0,
    tA: p5TimeA, nA: p5NoiseA, tB: p5TimeB, profB: p5ProfileB, scatB: p5ScatteredB, tC: p5TimeC, nC: p5NoiseC, kT: p5KernelTime, k: p5Kernel },
  { source: "B1815-14, 1408MHz, ", tau: "5.26", xMin: 2.1, xMax: 289.5, xTicks: p6XTicks, yTicks: p6YTicks, yDecimals: 1,
    tA: p6TimeA, nA: p6NoiseA, tB: p6TimeB, profB: p6ProfileB, scatB: p6ScatteredB, tC: p6TimeC, nC: p6NoiseC, kT: p6KernelTime, k: p6Kernel },
  { source: "B1821-11, 925MHz, ", tau: "22.23", xMin: 2.4, xMax: 433, xTicks: p7XTicks, yTicks: p7YTicks, yDecimals: 0,
    tA: p7TimeA, nA: p7NoiseA, tB: p7TimeB, profB: p7ProfileB, scatB: p7ScatteredB, tC: p7TimeC, nC: p7NoiseC, kT: p7KernelTime, k: p7Kernel },
  { source: "B1821-11, 1408MHz, ", tau: "3.51", xMin: 2, xMax: 433, xTicks: p8XTicks, yTicks: p8YTicks, yDecimals: 1,
    tA: p8TimeA, nA: p8NoiseA, tB: p8TimeB, profB: p8ProfileB, scatB: p8ScatteredB, tC: p8TimeC, nC: p8NoiseC, kT: p8KernelTime, k: p8Kernel },
  { source: "B1821-19, 408MHz, ", tau: "8.22", xMin: 3.7, xMax: 188.2, xTicks: p9XTicks, yTicks: p9YTicks, yDecimals: 1,
    tA: p9TimeA, nA: p9NoiseA, tB: p9TimeB, profB: p9ProfileB, scatB: p9ScatteredB, tC: p9TimeC, nC: p9NoiseC, kT: p9KernelTime, k: p9Kernel },
];

function pairs(t: number[], v: number[]) {
  const n = Math.min(t.length, v.length);
  const out: { x: number; y: number }[] = [];
  for (let i = 0; i < n; i++) out.push({ x: t[i], y: v[i] });
  return out;
}

const fmtY = (v: number, d: number) => v.toFixed(d).replace("-", "\u2212");

// frame, inward ticks on all four sides, title and axis labels
function makeDecor(spec: Spec) {
  return {
    id: "panelDecor",
    afterDraw(chart: any) {
      const { ctx, chartArea: a } = chart;
      const xs = chart.scales.x;
      const ys = chart.scales.y;
      ctx.save();
      ctx.strokeStyle = "#000";
      ctx.lineWidth = 1;
      ctx.beginPath();
      for (const v of spec.xTicks) {
        const px = Math.round(xs.getPixelForValue(v)) + 0.5;
        ctx.moveTo(px, a.bottom);
        ctx.lineTo(px, a.bottom - TICK_LEN);
        ctx.moveTo(px, a.top);
        ctx.lineTo(px, a.top + TICK_LEN);
      }
      for (const v of spec.yTicks) {
        const py = Math.round(ys.getPixelForValue(v)) + 0.5;
        ctx.moveTo(a.left, py);
        ctx.lineTo(a.left + TICK_LEN, py);
        ctx.moveTo(a.right, py);
        ctx.lineTo(a.right - TICK_LEN, py);
      }
      ctx.stroke();
      ctx.lineWidth = 1.5;
      ctx.strokeRect(a.left, a.top, a.right - a.left, a.bottom - a.top);

      // title with italic tau and spaced equals sign
      ctx.fillStyle = "#000";
      ctx.textAlign = "left";
      ctx.textBaseline = "alphabetic";
      const parts = [
        { text: spec.source, font: `${LABEL_PX}px ${FONT}`, after: 0 },
        { text: "\u03c4", font: `italic ${LABEL_PX}px "DejaVu Serif", serif`, after: EQ_GAP },
        { text: "=", font: `${LABEL_PX}px ${FONT}`, after: EQ_GAP },
        { text: `${spec.tau} ms`, font: `${LABEL_PX}px ${FONT}`, after: 0 },
      ];
      let total = 0;
      const widths = parts.map((p) => {
        ctx.font = p.font;
        const w = ctx.measureText(p.text).width + p.after;
        total += w;
        return w;
      });
      let x = (a.left + a.right) / 2 - total / 2;
      parts.forEach((p, i) => {
        ctx.font = p.font;
        ctx.fillText(p.text, x, a.top - 7);
        x += widths[i];
      });

      // x axis label
      ctx.font = `${LABEL_PX}px ${FONT}`;
      ctx.textAlign = "center";
      ctx.fillText("Time (ms)", (a.left + a.right) / 2, a.bottom + 53);

      // y axis label, placed just outside the widest tick label
      ctx.font = `${TICK_PX}px ${FONT}`;
      let maxW = 0;
      for (const v of spec.yTicks) maxW = Math.max(maxW, ctx.measureText(fmtY(v, spec.yDecimals)).width);
      ctx.translate(a.left - (maxW + 27), (a.top + a.bottom) / 2);
      ctx.rotate(-Math.PI / 2);
      ctx.font = `${LABEL_PX}px ${FONT}`;
      ctx.textAlign = "center";
      ctx.textBaseline = "middle";
      ctx.fillText("Intensity (arbitrary units)", 0, 0);
      ctx.restore();
    },
  };
}

function PanelChart({ spec, col, row }: { spec: Spec; col: number; row: number }) {
  const ref = useRef<HTMLCanvasElement | null>(null);
  useEffect(() => {
    const canvas = ref.current;
    if (!canvas) return;
    const profile = [...pairs(spec.tA, spec.nA), ...pairs(spec.tB, spec.profB), ...pairs(spec.tC, spec.nC)];
    const scattered = [...pairs(spec.tA, spec.nA), ...pairs(spec.tB, spec.scatB), ...pairs(spec.tC, spec.nC)];
    const kernel = pairs(spec.kT, spec.k);
    const tickFont = { family: FONT, size: TICK_PX };
    const chart = new Chart(canvas, {
      type: "line",
      data: {
        datasets: [
          { label: "kernel", data: kernel, borderColor: "#0000ff", borderWidth: 3.5, borderDash: [3, 4.7], borderCapStyle: "butt", order: 0 },
          { label: "profile", data: profile, borderColor: "#000000", borderWidth: 1.5, order: 1 },
          { label: "scattered", data: scattered, borderColor: "#ff0000", borderWidth: 4.5, borderDash: [11, 7], borderCapStyle: "butt", order: 2 },
        ],
      } as any,
      options: {
        animation: false,
        responsive: false,
        maintainAspectRatio: false,
        devicePixelRatio: 1,
        events: [],
        layout: { padding: { left: 0, top: PAD_T, right: PAD_R, bottom: 0 } },
        elements: { point: { radius: 0 }, line: { tension: 0, fill: false } },
        plugins: { legend: { display: false }, tooltip: { enabled: false }, title: { display: false } },
        scales: {
          x: {
            type: "linear",
            min: spec.xMin,
            max: spec.xMax,
            grid: { display: false, drawTicks: false },
            border: { display: false },
            ticks: {
              autoSkip: false,
              maxRotation: 0,
              minRotation: 0,
              padding: 5,
              color: "#000",
              font: tickFont,
              callback: (v: any) => String(Math.round(Number(v))),
            },
            afterBuildTicks: (s: any) => {
              s.ticks = spec.xTicks.map((v) => ({ value: v }));
            },
            afterFit: (s: any) => {
              s.height = AXIS_H;
              s.paddingLeft = 0;
              s.paddingRight = 0;
            },
          },
          y: {
            type: "linear",
            min: spec.yTicks[0],
            max: spec.yTicks[spec.yTicks.length - 1],
            grid: { display: false, drawTicks: false },
            border: { display: false },
            ticks: {
              autoSkip: false,
              padding: 6,
              color: "#000",
              font: tickFont,
              callback: (v: any) => fmtY(Number(v), spec.yDecimals),
            },
            afterBuildTicks: (s: any) => {
              s.ticks = spec.yTicks.map((v) => ({ value: v }));
            },
            afterFit: (s: any) => {
              s.width = AXIS_W;
              s.paddingTop = 0;
              s.paddingBottom = 0;
            },
          },
        },
      } as any,
      plugins: [makeDecor(spec) as any],
    });
    return () => chart.destroy();
  }, [spec]);

  return (
    <canvas
      ref={ref}
      width={CW}
      height={CH}
      style={{ position: "absolute", left: COL_LEFT[col] - AXIS_W, top: ROW_TOP[row] - PAD_T, width: CW, height: CH }}
    />
  );
}

export default function App() {
  return (
    <div style={{ position: "absolute", left: 0, top: 0, width: 2400, height: 1800, background: "#fff", overflow: "hidden" }}>
      {PANELS.map((p, i) => (
        <PanelChart key={i} spec={p} col={i % 3} row={Math.floor(i / 3)} />
      ))}
    </div>
  );
}
